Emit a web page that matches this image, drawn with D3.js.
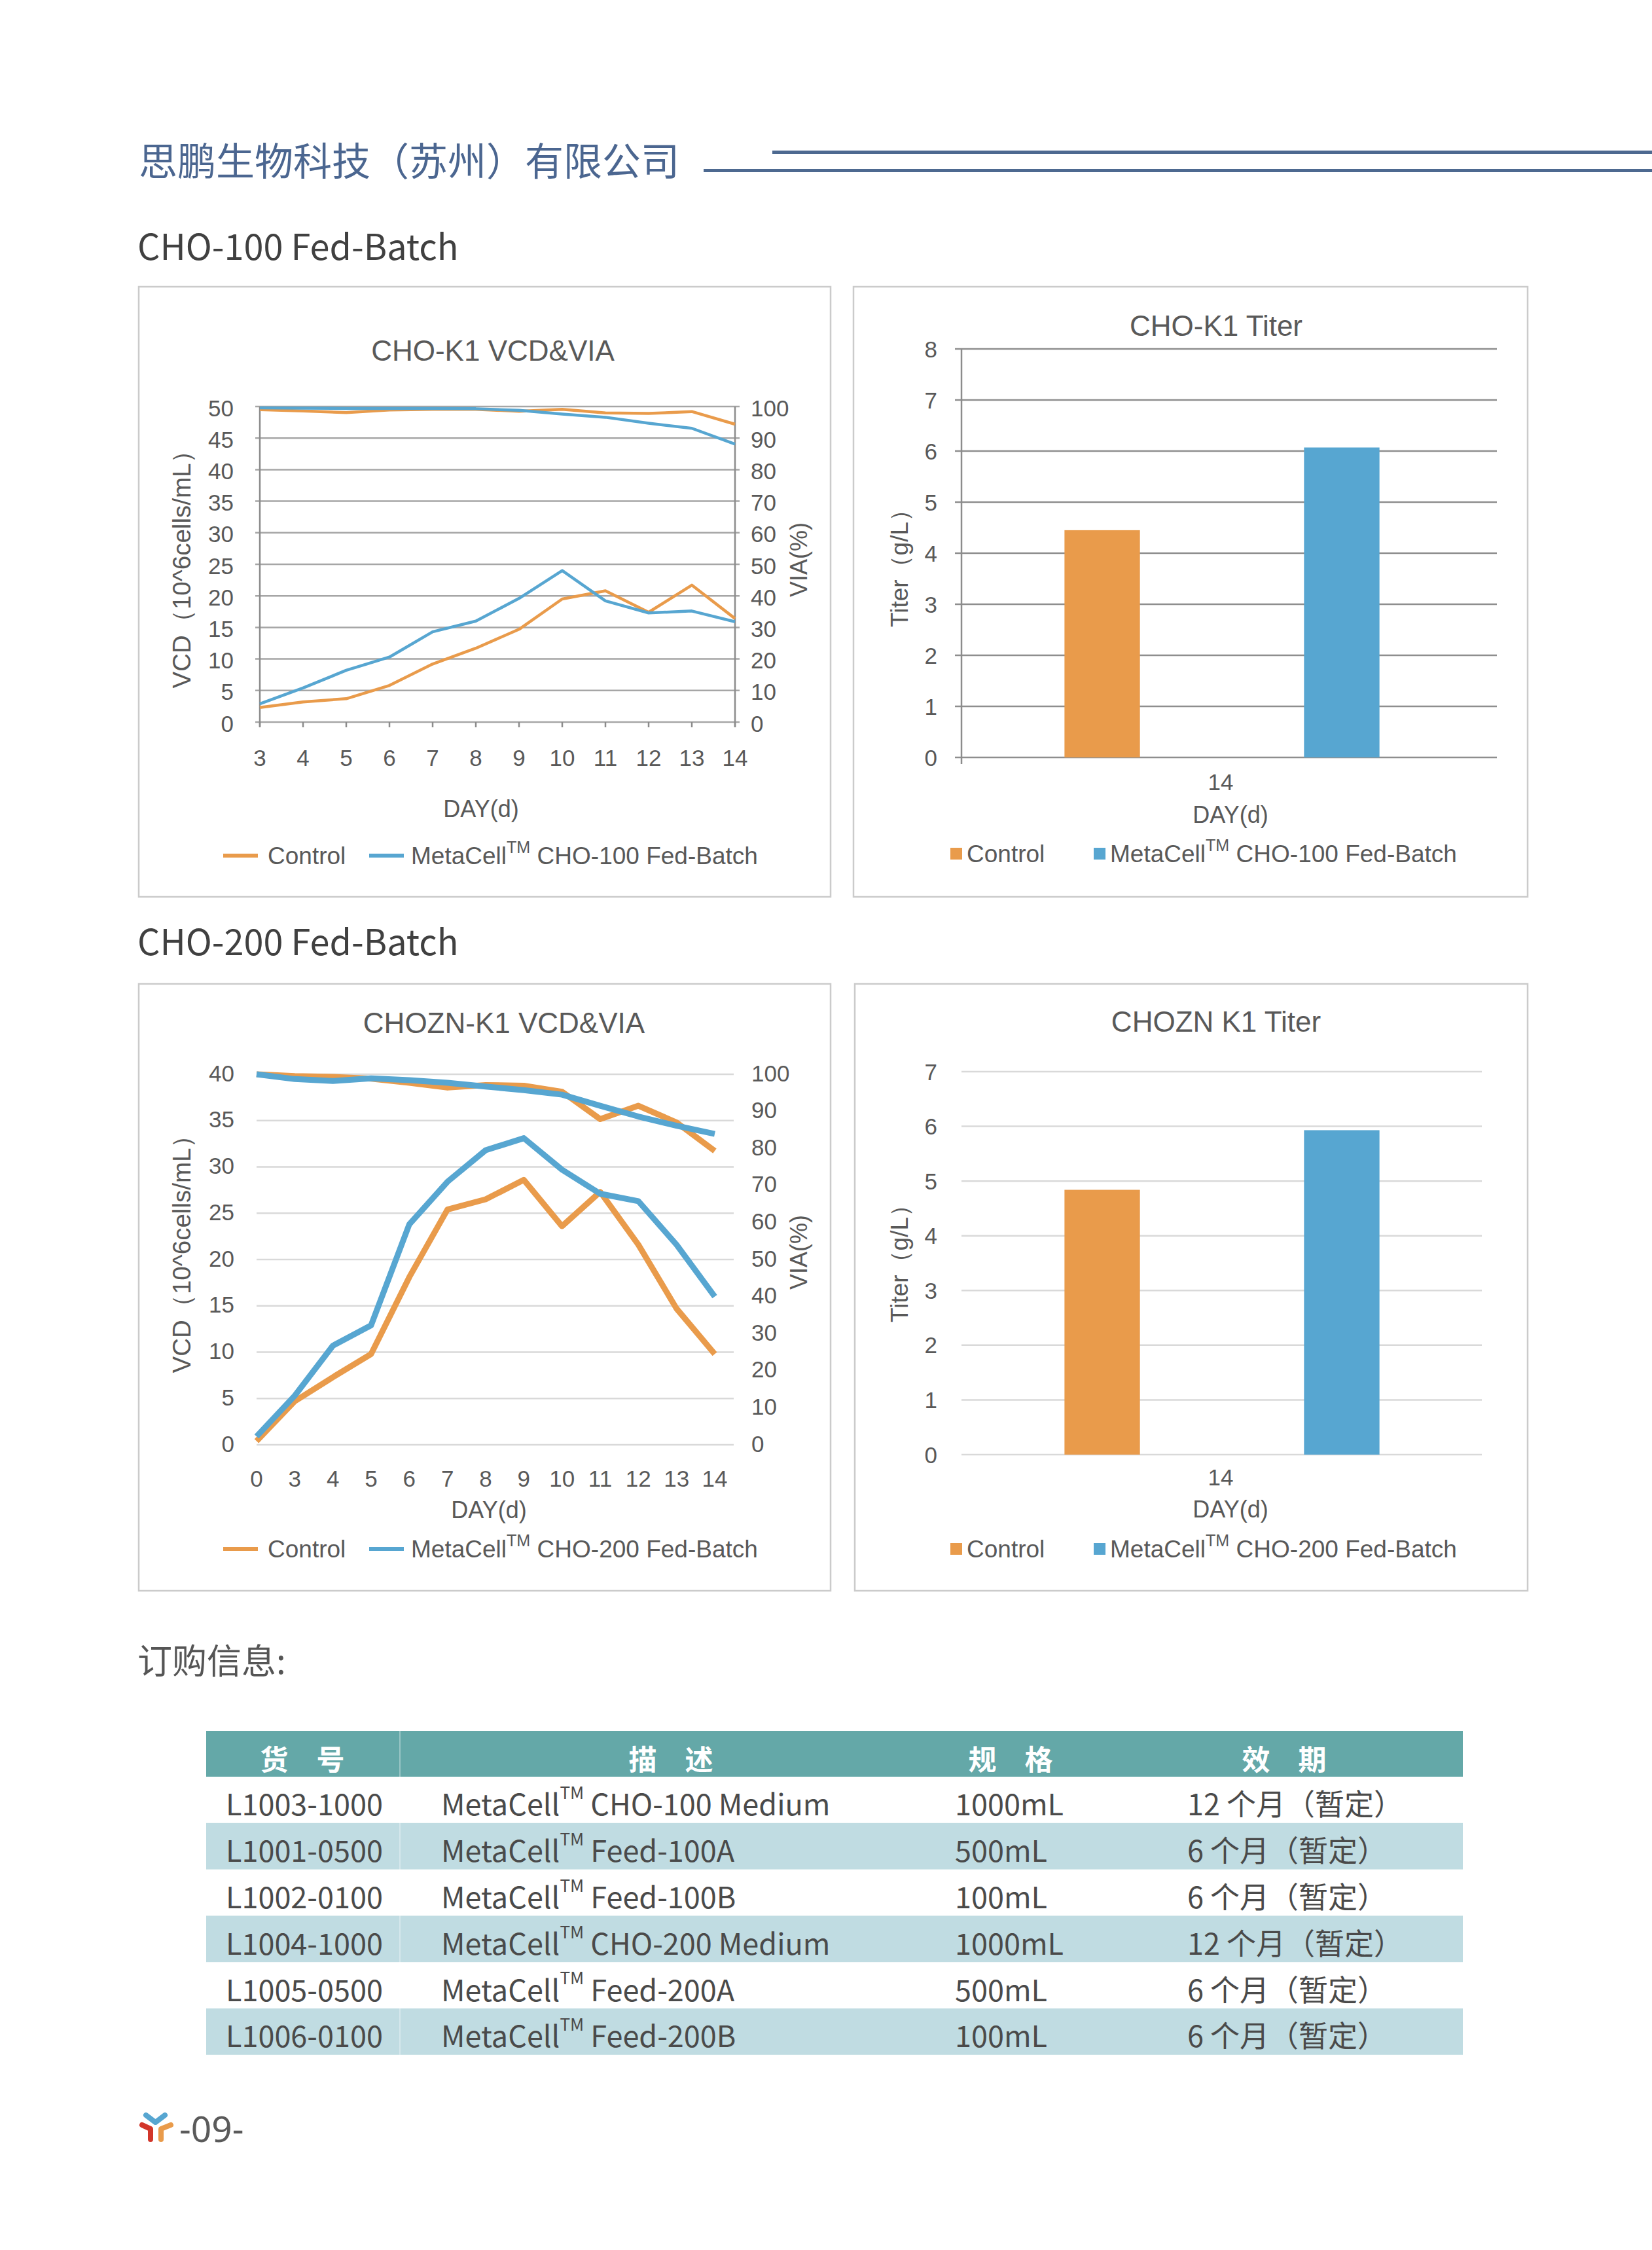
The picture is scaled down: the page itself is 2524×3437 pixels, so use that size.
<!DOCTYPE html>
<html><head><meta charset="utf-8">
<script src="https://cdn.jsdelivr.net/npm/d3@7"></script>
<style>body{margin:0;background:#fff}svg{display:block}</style>
</head><body><svg id="c"></svg>
<script>
// ---------- DATA ----------
const days1 = ["3","4","5","6","7","8","9","10","11","12","13","14"];
const vcdControl1 = [2.3,3.2,3.7,5.8,9.2,11.7,14.7,19.5,20.8,17.4,21.7,16.4];
const vcdMeta1    = [2.9,5.4,8.2,10.3,14.3,16.0,19.6,24.0,19.2,17.3,17.6,15.9];
const viaControl1 = [99.0,98.6,98.1,98.9,99.1,99.1,98.5,99.1,98.0,97.8,98.4,94.4];
const viaMeta1    = [99.6,99.5,99.4,99.4,99.4,99.3,98.8,97.6,96.6,94.7,93.1,88.1];

const days2 = ["0","3","4","5","6","7","8","9","10","11","12","13","14"];
const vcdControl2 = [0.4,4.7,7.3,9.8,18.1,25.4,26.5,28.6,23.6,27.3,21.6,14.7,9.8];
const vcdMeta2    = [0.9,5.3,10.7,12.9,23.8,28.4,31.8,33.1,29.7,27.1,26.3,21.6,16.0];
const viaControl2 = [100,99.5,99.3,98.8,97.7,96.4,97.1,96.9,95.3,87.9,91.5,87.0,79.3];
const viaMeta2    = [100,98.7,98.2,98.9,98.4,97.7,96.7,95.7,94.5,91.5,88.6,86.1,83.9];

const titerDay = ["14"];
const seriesNames1 = ["Control","MetaCell™ CHO-100 Fed-Batch"];
const seriesNames2 = ["Control","MetaCell™ CHO-200 Fed-Batch"];
const titer1 = [4.45, 6.07];
const titer2 = [4.84, 5.93];

const tableHeaders = ["货　号","描　述","规　格","效　期"];
const catalogNos = ["L1003-1000","L1001-0500","L1002-0100","L1004-1000","L1005-0500","L1006-0100"];
const descriptions = ["MetaCell™ CHO-100 Medium","MetaCell™ Feed-100A","MetaCell™ Feed-100B","MetaCell™ CHO-200 Medium","MetaCell™ Feed-200A","MetaCell™ Feed-200B"];
const sizes = ["1000mL","500mL","100mL","1000mL","500mL","100mL"];
const shelfLives = ["12 个月（暂定）","6 个月（暂定）","6 个月（暂定）","12 个月（暂定）","6 个月（暂定）","6 个月（暂定）"];

// ---------- STYLE ----------
const W = 2524, H = 3437;
const ORANGE = "#e99b4b", BLUE = "#57a6d1";
const TXT = "#595959";
const ARIAL = "'Liberation Sans', Arial, sans-serif";
const CJK = "'Noto Sans CJK SC', 'Noto Sans', sans-serif";

const svg = d3.select("#c").attr("width", W).attr("height", H).attr("viewBox", `0 0 ${W} ${H}`);
svg.append("rect").attr("width", W).attr("height", H).attr("fill", "#fff");

// text with TM superscript (size in px)
function tmText(sel, str, size, ratio) {
  const parts = str.split("™");
  sel.text(null);
  sel.append("tspan").text(parts[0]);
  if (parts.length > 1) {
    const up = size * 0.36;
    sel.append("tspan").attr("font-size", size * (ratio || 0.58)).attr("dy", -up).text("TM");
    sel.append("tspan").attr("dy", up).text(parts[1]);
  }
  return sel;
}

// ---------- HEADER ----------
svg.append("text").attr("x", 212).attr("y", 242).attr("dominant-baseline", "central")
  .attr("font-family", CJK).attr("font-size", 59).attr("fill", "#4b6690")
  .text("思鹏生物科技（苏州）有限公司");
svg.append("rect").attr("x", 1180).attr("y", 230).attr("width", W - 1180).attr("height", 5).attr("fill", "#4d6990");
svg.append("rect").attr("x", 1075).attr("y", 258).attr("width", W - 1075).attr("height", 5).attr("fill", "#4d6990");

// section titles
svg.append("text").attr("x", 210).attr("y", 373).attr("dominant-baseline", "central")
  .attr("font-family", CJK).attr("font-size", 54).attr("fill", "#404040").text("CHO-100 Fed-Batch");
svg.append("text").attr("x", 210).attr("y", 1435).attr("dominant-baseline", "central")
  .attr("font-family", CJK).attr("font-size", 54).attr("fill", "#404040").text("CHO-200 Fed-Batch");

// panels
[[212,438,1269,1370],[1304,438,2334,1370],[212,1503,1269,2430],[1306,1503,2334,2430]].forEach(b => {
  svg.append("rect").attr("x", b[0]).attr("y", b[1]).attr("width", b[2]-b[0]).attr("height", b[3]-b[1])
    .attr("fill", "none").attr("stroke", "#cbcbcb").attr("stroke-width", 2.5);
});

function txt(g, x, y, s, size, anchor, extra) {
  const t = g.append("text").attr("x", x).attr("y", y).attr("dominant-baseline", "central")
    .attr("font-family", ARIAL).attr("font-size", size).attr("fill", TXT).attr("text-anchor", anchor || "middle");
  if (extra) extra(t);
  return t.text(s);
}

// ---------- LINE CHART ----------
function lineChart(o) {
  const g = svg.append("g");
  const x = d3.scalePoint().domain(o.days).range([o.x0, o.x1]);
  const yL = d3.scaleLinear().domain([0, o.lmax]).range([o.y0, o.y1]);
  const yR = d3.scaleLinear().domain([0, 100]).range([o.y0, o.y1]);
  const lTicks = d3.range(0, o.lmax + 0.001, 5);
  const rTicks = d3.range(0, 100.001, 10);
  g.selectAll(".gl").data(lTicks).join("line")
    .attr("x1", o.x0 - (o.axes ? 7 : 0)).attr("x2", o.gridRight + (o.axes ? 7 : 0))
    .attr("y1", d => yL(d)).attr("y2", d => yL(d))
    .attr("stroke", o.gridColor).attr("stroke-width", o.gridW);
  if (o.axes) {
    g.append("line").attr("x1", o.x0).attr("x2", o.x0).attr("y1", o.y0 + 7).attr("y2", o.y1).attr("stroke", "#8c8c8c").attr("stroke-width", 2.5);
    g.append("line").attr("x1", o.gridRight).attr("x2", o.gridRight).attr("y1", o.y0 + 7).attr("y2", o.y1).attr("stroke", "#8c8c8c").attr("stroke-width", 2.5);
    g.selectAll(".xt").data(o.days).join("line")
      .attr("x1", d => x(d)).attr("x2", d => x(d)).attr("y1", o.y0).attr("y2", o.y0 + 8)
      .attr("stroke", "#8c8c8c").attr("stroke-width", 2.5);
  }
  lTicks.forEach(v => txt(g, o.lLabX, yL(v) + o.labDy, String(v), 35, "end"));
  rTicks.forEach(v => txt(g, o.rLabX, yR(v) + o.labDy, String(v), 35, "start"));
  o.days.forEach(d => txt(g, x(d), o.xLabY, d, 35, "middle"));
  const lineL = d3.line().x((d, i) => x(o.days[i])).y(d => yL(d));
  const lineR = d3.line().x((d, i) => x(o.days[i])).y(d => yR(d));
  const series = [[o.vcdC, lineL, ORANGE],[o.vcdM, lineL, BLUE],[o.viaC, lineR, ORANGE],[o.viaM, lineR, BLUE]];
  series.forEach(s => g.append("path").attr("d", s[1](s[0])).attr("fill", "none")
    .attr("stroke", s[2]).attr("stroke-width", o.lineW).attr("stroke-linejoin", "round").attr("stroke-linecap", "butt"));
  txt(g, o.titleX, o.titleY, o.title, 44, "middle");
  txt(g, o.dayX, o.dayY, "DAY(d)", 36, "middle");
  txt(g, 0, 0, "VCD（10^6cells/mL）", 38.5, "middle", t => t.attr("transform", `translate(${o.vcdX},${o.vcdY}) rotate(-90)`));
  txt(g, 0, 0, "VIA(%)", 36, "middle", t => t.attr("transform", `translate(${o.viaX},${o.viaY}) rotate(-90)`));
  const leg = [[341, 394, 409, o.names[0], ORANGE],[564, 617, 628, o.names[1], BLUE]];
  leg.forEach(l => {
    g.append("line").attr("x1", l[0]).attr("x2", l[1]).attr("y1", o.legY).attr("y2", o.legY).attr("stroke", l[4]).attr("stroke-width", 6);
    const t = g.append("text").attr("x", l[2]).attr("y", o.legY).attr("dominant-baseline", "central")
      .attr("font-family", ARIAL).attr("font-size", 37).attr("fill", TXT);
    tmText(t, l[3], 37, 0.68);
  });
}

lineChart({days: days1, vcdC: vcdControl1, vcdM: vcdMeta1, viaC: viaControl1, viaM: viaMeta1,
  x0: 397, x1: 1123, gridRight: 1123, y0: 1103, y1: 621, lmax: 50, axes: true,
  gridColor: "#a6a6a6", gridW: 2.5, lineW: 4.5,
  lLabX: 357, rLabX: 1147, xLabY: 1157, labDy: 2,
  title: "CHO-K1 VCD&VIA", titleX: 753, titleY: 535, dayX: 735, dayY: 1235,
  vcdX: 277, vcdY: 860, viaX: 1220, viaY: 855, legY: 1307, names: seriesNames1});

lineChart({days: days2, vcdC: vcdControl2, vcdM: vcdMeta2, viaC: viaControl2, viaM: viaMeta2,
  x0: 392, x1: 1092, gridRight: 1121, y0: 2207, y1: 1641, lmax: 40, axes: false,
  gridColor: "#d9d9d9", gridW: 2.5, lineW: 9,
  lLabX: 358, rLabX: 1148, xLabY: 2258, labDy: -2,
  title: "CHOZN-K1 VCD&VIA", titleX: 770, titleY: 1562, dayX: 747, dayY: 2306,
  vcdX: 277, vcdY: 1906, viaX: 1220, viaY: 1913, legY: 2366, names: seriesNames2});

// ---------- BAR CHART ----------
function barChart(o) {
  const g = svg.append("g");
  const x0 = d3.scaleBand().domain(titerDay).range([1469, 2265]);
  const x1 = d3.scaleBand().domain(o.names).range([0, x0.bandwidth()]).paddingInner(0.685).paddingOuter(0.43);
  const y = d3.scaleLinear().domain([0, o.ymax]).range([o.y0, o.y1]);
  const ticks = d3.range(0, o.ymax + 0.001, 1);
  g.selectAll(".gl").data(ticks).join("line")
    .attr("x1", 1469 - (o.axes ? 10 : 0)).attr("x2", o.gridR).attr("y1", d => y(d)).attr("y2", d => y(d))
    .attr("stroke", o.gridColor).attr("stroke-width", o.gridW);
  if (o.axes) {
    g.append("line").attr("x1", 1469).attr("x2", 1469).attr("y1", o.y0 + 10).attr("y2", o.y1).attr("stroke", "#8c8c8c").attr("stroke-width", 2.5);
  }
  ticks.forEach(v => txt(g, 1432, y(v), String(v), 35, "end"));
  g.selectAll(".bar").data(o.values).join("rect")
    .attr("x", (d, i) => x0(titerDay[0]) + x1(o.names[i]))
    .attr("width", x1.bandwidth())
    .attr("y", d => y(d)).attr("height", d => o.y0 - y(d))
    .attr("fill", (d, i) => i === 0 ? ORANGE : BLUE);
  txt(g, 1858, o.titleY, o.title, 44, "middle");
  txt(g, 1865, o.tickY, titerDay[0], 35, "middle");
  txt(g, 1880, o.dayY, "DAY(d)", 36, "middle");
  txt(g, 0, 0, "Titer（g/L）", 37, "middle", t => t.attr("transform", `translate(${1374},${o.titerLabY}) rotate(-90)`));
  const leg = [[1452, 1477, o.names[0], ORANGE],[1671, 1696, o.names[1], BLUE]];
  leg.forEach(l => {
    g.append("rect").attr("x", l[0]).attr("y", o.legY - 9).attr("width", 18).attr("height", 18).attr("fill", l[3]);
    const t = g.append("text").attr("x", l[1]).attr("y", o.legY).attr("dominant-baseline", "central")
      .attr("font-family", ARIAL).attr("font-size", 37).attr("fill", TXT);
    tmText(t, l[2], 37, 0.68);
  });
}

barChart({names: seriesNames1, values: titer1, y0: 1157, y1: 533, ymax: 8, axes: true, gridR: 2287,
  gridColor: "#8e8e8e", gridW: 2.5, title: "CHO-K1 Titer", titleY: 497, tickY: 1194, dayY: 1244, titerLabY: 859, legY: 1304});
barChart({names: seriesNames2, values: titer2, y0: 2222, y1: 1637, ymax: 7, axes: false, gridR: 2264,
  gridColor: "#d9d9d9", gridW: 2.5, title: "CHOZN K1 Titer", titleY: 1560, tickY: 2256, dayY: 2305, titerLabY: 1921, legY: 2366});

// ---------- ORDER TABLE ----------
svg.append("text").attr("x", 210).attr("y", 2534).attr("dominant-baseline", "central")
  .attr("font-family", CJK).attr("font-size", 53).attr("fill", "#555").text("订购信息:");

const tX0 = 315, tX1 = 2235, headTop = 2644, headH = 70, rowH = 70.8;
const tg = svg.append("g");
tg.append("rect").attr("x", tX0).attr("y", headTop).attr("width", tX1 - tX0).attr("height", headH).attr("fill", "#64a8a8");
const headCenters = [462, 1025, 1544, 1962];
tableHeaders.forEach((h, i) => tg.append("text").attr("x", headCenters[i]).attr("y", headTop + headH / 2 + 6)
  .attr("dominant-baseline", "central").attr("text-anchor", "middle").attr("font-family", CJK)
  .attr("font-weight", 700).attr("font-size", 43).attr("fill", "#fff").text(h));
const rowTop = headTop + headH;
catalogNos.forEach((c, i) => {
  const y = rowTop + i * rowH;
  if (i % 2 === 1) tg.append("rect").attr("x", tX0).attr("y", y).attr("width", tX1 - tX0).attr("height", rowH).attr("fill", "#c0dce2");
  const cy = y + rowH / 2 + 4;
  const cols = [[345, c], [674, descriptions[i]], [1459, sizes[i]], [1814, shelfLives[i]]];
  cols.forEach(col => {
    const t = tg.append("text").attr("x", col[0]).attr("y", cy).attr("dominant-baseline", "central")
      .attr("font-family", CJK).attr("font-size", 45).attr("fill", "#4a4a4a");
    tmText(t, col[1], 45);
  });
});
tg.append("line").attr("x1", 611).attr("x2", 611).attr("y1", headTop).attr("y2", rowTop + 6 * rowH)
  .attr("stroke", "#ffffff").attr("stroke-opacity", 0.35).attr("stroke-width", 2);

// ---------- FOOTER ----------
const fg = svg.append("g").attr("fill", "none").attr("stroke-linecap", "round").attr("stroke-linejoin", "round").attr("stroke-width", 8);
fg.append("path").attr("d", "M223,3231 L237.5,3242 L252,3231").attr("stroke", BLUE);
fg.append("path").attr("d", "M217,3246 L230,3252 L230,3268").attr("stroke", "#d2362a");
fg.append("path").attr("d", "M261,3246 L246,3252 L246,3268").attr("stroke", ORANGE);
svg.append("text").attr("x", 274).attr("y", 3250).attr("dominant-baseline", "central")
  .attr("font-family", "'Noto Sans', sans-serif").attr("font-size", 55).attr("fill", "#5a5a5a").text("-09-");
</script></body></html>
